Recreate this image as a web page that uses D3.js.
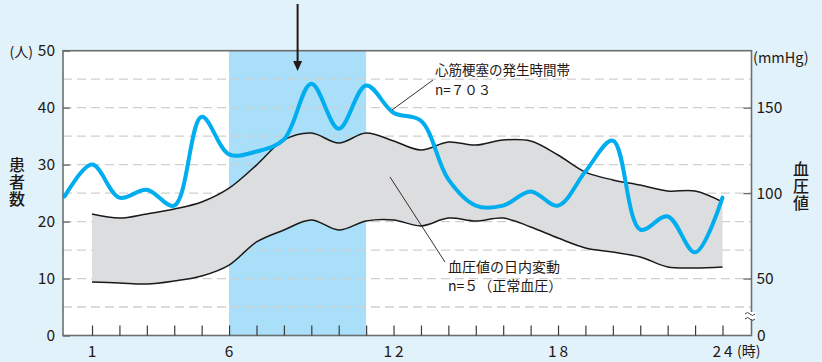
<!DOCTYPE html>
<html><head><meta charset="utf-8">
<script src="https://cdn.jsdelivr.net/npm/d3@7"></script>
<style>
html,body{margin:0;padding:0;background:#E1F2FA;}
svg{display:block;font-family:"Noto Sans CJK JP","Noto Sans",sans-serif;}
</style></head>
<body>
<svg id="c" width="822" height="362"></svg>
<script>
// ---- data ----
const patientHours = [0,1,2,3,4,5,6,7,8,9,10,11,12,13,14,15,16,17,18,19,20,21,22,23,24];
const patients = [24.4,30.0,24.2,25.6,22.8,38.4,31.8,32.3,34.4,44.2,36.3,43.9,39.1,37.7,27.4,22.8,22.8,25.3,22.8,28.8,34.2,18.6,20.9,14.6,24.2];
const bpHours = [1,2,3,4,5,6,7,8,9,10,11,12,13,14,15,16,17,18,19,20,21,22,23,24];
const bpUpper = [87.8,85.4,87.8,90.7,94.8,102.9,116.4,131.1,135.2,129.3,135.2,130.5,125.2,129.9,128.1,131.1,130.5,122.3,112.3,107.7,104.7,101.2,101.2,94.8];
const bpLower = [48.0,47.4,46.8,48.6,51.5,57.9,71.4,78.4,84.3,78.4,83.7,84.3,80.8,85.4,83.7,85.4,80.2,73.7,67.9,65.5,62.6,56.8,56.2,56.8];
const leftTicks = [0,10,20,30,40,50];
const gridTicks = [5,10,15,20,25,30,35,40,45];
const rightTicks = [50,100,150];
const xTickLabels = [1,6,12,18,24];
const highlight = [6,11];
const arrowHour = 8.5;

const svg = d3.select("#c");
const fx = d3.scaleLinear().domain([0,25]).range([64.6,749.9]);
const fy = d3.scaleLinear().domain([0,50]).range([335.5,50.7]);
// right axis is broken: 50..150 mmHg aligned with 10..40 on the left
const fyR = d3.scaleLinear().domain([50,150]).range([fy(10),fy(40)]);
const L = 63, R = 751.5, T = 50.7, B = 335.5;
const txt = "#231815";

// plot background
svg.append("rect").attr("x",L).attr("y",T).attr("width",R-L).attr("height",B-T).attr("fill","#fff");
// highlight
svg.append("rect").attr("x",fx(highlight[0])).attr("y",T).attr("width",fx(highlight[1])-fx(highlight[0])).attr("height",B-T).attr("fill","#A9DFF9");
// grid
svg.append("g").selectAll("line").data(gridTicks).join("line")
  .attr("x1",L).attr("x2",R).attr("y1",d=>fy(d)).attr("y2",d=>fy(d))
  .attr("stroke","#cfcfcf").attr("stroke-width",1.3).attr("stroke-dasharray","9,5");

// band
const area = d3.area().x((d,i)=>fx(bpHours[i])).y0((d,i)=>fyR(bpLower[i])).y1((d,i)=>fyR(bpUpper[i])).curve(d3.curveCatmullRom.alpha(0.5));
svg.append("path").datum(bpHours).attr("d",area).attr("fill","#DCDDDE");
const lineU = d3.line().x((d,i)=>fx(bpHours[i])).y(d=>fyR(d)).curve(d3.curveCatmullRom.alpha(0.5));
svg.append("path").datum(bpUpper).attr("d",lineU).attr("fill","none").attr("stroke","#1a1a1a").attr("stroke-width",1.5);
svg.append("path").datum(bpLower).attr("d",lineU).attr("fill","none").attr("stroke","#1a1a1a").attr("stroke-width",1.5);

// patients line
const lineP = d3.line().x((d,i)=>fx(patientHours[i])).y(d=>fy(d)).curve(d3.curveCatmullRom.alpha(0.5));
svg.append("path").datum(patients).attr("d",lineP).attr("fill","none").attr("stroke","#00ADEE").attr("stroke-width",4).attr("stroke-linejoin","round").attr("stroke-linecap","round");

// frame
svg.append("rect").attr("x",L).attr("y",T).attr("width",R-L).attr("height",B-T).attr("fill","none").attr("stroke","#6d6e70").attr("stroke-width",1.6);

// left axis ticks (inward)
const yAxisL = d3.axisLeft(fy).tickValues(leftTicks).tickSize(-7).tickFormat(d3.format("d"));
const gL = svg.append("g").attr("transform",`translate(${L},0)`).call(yAxisL);
gL.select(".domain").remove();
gL.selectAll(".tick line").attr("stroke","#6d6e70").attr("stroke-width",1.4);
gL.selectAll(".tick text").attr("x",-8).attr("font-size",15.5).attr("fill",txt).attr("font-family","'Noto Sans CJK JP'");

// right axis ticks (inward)
const yAxisR = d3.axisRight(fyR).tickValues(rightTicks).tickSize(-8).tickFormat(d3.format("d"));
const gR = svg.append("g").attr("transform",`translate(${R},0)`).call(yAxisR);
gR.select(".domain").remove();
gR.selectAll(".tick line").attr("stroke","#6d6e70").attr("stroke-width",1.4);
gR.selectAll(".tick text").attr("x",5).attr("font-size",15.5).attr("fill",txt).attr("font-family","'Noto Sans CJK JP'");

// bottom ticks (inward), every hour
const xAxis = d3.axisBottom(fx).tickValues(d3.range(1,25)).tickSize(-10).tickFormat("");
const gX = svg.append("g").attr("transform",`translate(0,${B})`).call(xAxis);
gX.select(".domain").remove();
gX.selectAll(".tick line").attr("stroke","#3a3a3a").attr("stroke-width",1.2);
svg.append("g").selectAll("text").data(xTickLabels).join("text")
  .attr("x",d=>fx(d)+(d>9?1.5:0)).attr("y",357).attr("text-anchor","middle")
  .attr("font-size",15.5).attr("fill",txt).attr("letter-spacing",d=>d>9?"3px":"0px").text(d=>d);
svg.append("text").attr("x",737).attr("y",356).attr("font-size",14).attr("fill",txt).text("(時)");

// unit labels
svg.append("text").attr("x",33).attr("y",57).attr("text-anchor","end").attr("font-size",14).attr("fill",txt).text("(人)");
svg.append("text").attr("x",753).attr("y",63).attr("font-size",14.5).attr("fill",txt).text("(mmHg)");
svg.append("text").attr("x",757).attr("y",341).attr("font-size",15.5).attr("fill",txt).text("0");
svg.append("text").attr("x",17).attr("y",157).attr("writing-mode","vertical-rl").attr("letter-spacing","1px")
  .attr("font-size",16).attr("font-weight",500).attr("fill",txt).text("患者数");
svg.append("text").attr("x",801).attr("y",161).attr("writing-mode","vertical-rl").attr("letter-spacing","1px")
  .attr("font-size",16).attr("font-weight",500).attr("fill",txt).text("血圧値");

// axis break mark
const brk = svg.append("g").attr("transform","translate(750,316)");
brk.append("rect").attr("x",-6).attr("y",-4).attr("width",12).attr("height",7).attr("fill","#fff");
["M-5,-2 q2.5,-3 5,0 t5,0","M-5,3 q2.5,-3 5,0 t5,0"].forEach(p=>brk.append("path").attr("d",p).attr("fill","none").attr("stroke","#444").attr("stroke-width",1));

// arrow
const ax = fx(arrowHour);
svg.append("line").attr("x1",ax).attr("x2",ax).attr("y1",4).attr("y2",63).attr("stroke","#231815").attr("stroke-width",2);
svg.append("path").attr("d",`M${ax-4.5},61 L${ax+4.5},61 L${ax},71 Z`).attr("fill","#231815");

// annotations
svg.append("line").attr("x1",433).attr("y1",80).attr("x2",392).attr("y2",110).attr("stroke","#231815").attr("stroke-width",0.9);
svg.append("text").attr("x",435).attr("y",74.5).attr("font-size",13.5).attr("fill",txt).text("心筋梗塞の発生時間帯");
svg.append("text").attr("x",435).attr("y",94.5).attr("font-size",13.5).attr("fill",txt).text("n=７０３");
svg.append("line").attr("x1",390).attr("y1",177).attr("x2",445).attr("y2",262).attr("stroke","#231815").attr("stroke-width",0.9);
svg.append("text").attr("x",448).attr("y",272).attr("font-size",14).attr("fill",txt).text("血圧値の日内変動");
svg.append("text").attr("x",448).attr("y",291).attr("font-size",14).attr("fill",txt).text("n=５（正常血圧）");
</script>
</body></html>
